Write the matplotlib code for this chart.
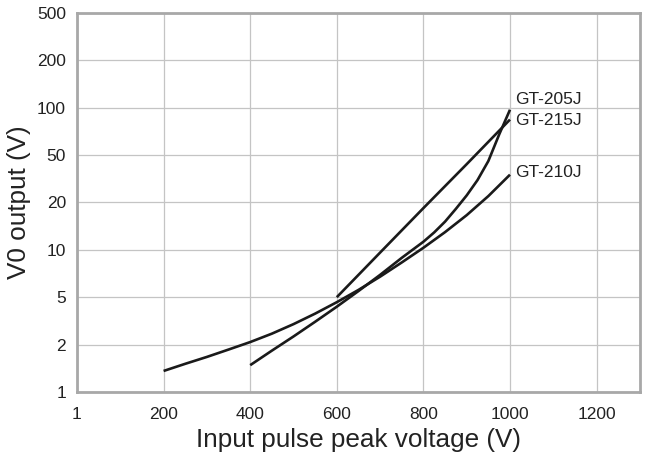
import numpy as np
import matplotlib
matplotlib.use("Agg")
import matplotlib.pyplot as plt

# ---- data ----
y_ticks = [1, 2, 5, 10, 20, 50, 100, 200, 500]
y_tick_labels = ["1", "2", "5", "10", "20", "50", "100", "200", "500"]
x_ticks = [0, 200, 400, 600, 800, 1000, 1200]
x_tick_labels = ["1", "200", "400", "600", "800", "1000", "1200"]

gt205_x = [400, 450, 500, 550, 600, 650, 700, 750, 800, 825, 850, 875, 900, 925, 950, 975, 1000]
gt205_y = [1.48, 1.83, 2.34, 3.11, 4.16, 5.47, 6.93, 8.89, 11.25, 12.9, 15.1, 18.2, 22.9, 30.8, 44.5, 67.5, 97]

gt215_x = [600, 700, 800, 900, 1000]
gt215_y = [5.0, 9.6, 18.4, 41.9, 84]

gt210_x = [200, 250, 300, 350, 400, 450, 500, 550, 600, 650, 700, 750, 800, 850, 900, 950, 1000]
gt210_y = [1.36, 1.51, 1.67, 1.86, 2.10, 2.47, 2.97, 3.64, 4.54, 5.56, 6.75, 8.31, 10.3, 12.95, 16.6, 22.6, 34.2]

labels = ["GT-205J", "GT-215J", "GT-210J"]
label_y = [113, 83, 36]

# ---- scale: equally spaced 1-2-5 steps ----
_lt = np.log10(np.array(y_ticks, dtype=float))
_idx = np.arange(len(y_ticks), dtype=float)


def fwd(v):
    v = np.clip(np.asarray(v, dtype=float), 1e-3, None)
    return np.interp(np.log10(v), _lt, _idx)


def inv(i):
    return 10 ** np.interp(np.asarray(i, dtype=float), _idx, _lt)


plt.rcParams["font.family"] = ["Liberation Sans", "DejaVu Sans"]

fig = plt.figure(figsize=(6.47, 4.59), dpi=100)
ax = fig.add_axes([0.119, 0.146, 0.870, 0.826])
ax.set_yscale("function", functions=(fwd, inv))
ax.set_xlim(0, 1300)
ax.set_ylim(1, 500)

ax.set_xticks(x_ticks)
ax.set_xticklabels(x_tick_labels)
ax.set_yticks(y_ticks)
ax.set_yticklabels(y_tick_labels)
ax.minorticks_off()
ax.tick_params(axis="both", length=0, labelsize=12.5, colors="#222222")
ax.tick_params(axis="y", pad=8)
ax.tick_params(axis="x", pad=11)

ax.grid(True, color="#c4c4c4", linewidth=0.9)
ax.set_axisbelow(True)
for s in ax.spines.values():
    s.set_color("#a8a8a8")
    s.set_linewidth(2.0)

lw = 1.9
for xs, ys in ((gt210_x, gt210_y), (gt205_x, gt205_y), (gt215_x, gt215_y)):
    ax.plot(xs, ys, color="#1a1a1a", lw=lw, solid_capstyle="butt", solid_joinstyle="round")

for t, yv in zip(labels, label_y):
    ax.text(1013, yv, t, fontsize=12.5, ha="left", va="center", color="#222222")

ax.set_xlabel("Input pulse peak voltage (V)", fontsize=18.8, color="#222222", labelpad=4)
ax.set_ylabel("V0 output (V)", fontsize=18.8, color="#222222", labelpad=4)

fig.savefig("out.png", dpi=100)
